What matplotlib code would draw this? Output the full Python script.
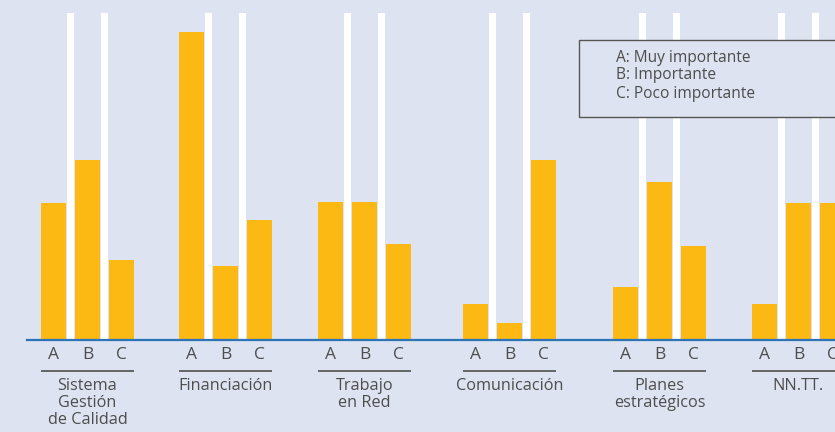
import matplotlib
matplotlib.use("Agg")
import matplotlib.pyplot as plt
from matplotlib.patches import Rectangle
from matplotlib.transforms import blended_transform_factory

# Importance ratings per management area (% of respondents)
areas = ["Sistema\nGestión\nde Calidad", "Financiación", "Trabajo\nen Red",
         "Comunicación", "Planes\nestratégicos", "NN.TT."]
muy_importante = [41.9, 94.2, 42.2, 11.0, 16.2, 11.0]
importante = [55.0, 22.6, 42.2, 5.2, 48.3, 41.9]
poco_importante = [24.5, 36.7, 29.4, 55.0, 28.7, 41.9]
level_labels = ["A", "B", "C"]
legend_lines = ["A: Muy importante", "B: Importante", "C: Poco importante"]

# Layout (horizontal positions in pixels of the figure)
W, H = 835, 432
group_centers = [87.5, 225.5, 364.5, 509.5, 659.5, 798.5]
bar_step = 34
bar_width = 25
stripe_width = 7.5

BG = "#dde3f1"
BAR = "#fdb913"
LINE = "#2b74ba"
TXT = "#4d4d4d"
FONT = "Open Sans"

fig = plt.figure(figsize=(W / 100, H / 100), dpi=100, facecolor=BG)
ax_left, ax_right, ax_top, ax_bottom = 27, 835, 13, 340
ax = fig.add_axes([ax_left / W, 1 - ax_bottom / H,
                   (ax_right - ax_left) / W, (ax_bottom - ax_top) / H])
ax.set_facecolor(BG)
ax.set_xlim(ax_left, ax_right)
ax.set_ylim(0, 100)

series = [muy_importante, importante, poco_importante]
tick_pos, tick_lab = [], []
for g, cx in enumerate(group_centers):
    for k, vals in enumerate(series):
        x = cx + (k - 1) * bar_step
        ax.bar(x, vals[g], width=bar_width, color=BAR, zorder=3)
        tick_pos.append(x)
        tick_lab.append(level_labels[k])
    # white separators between the bars of a group
    for k in (-0.5, 0.5):
        sx = cx + k * bar_step
        ax.axvspan(sx - stripe_width / 2, sx + stripe_width / 2,
                   color="white", lw=0, zorder=1)

for s in ("top", "right", "left"):
    ax.spines[s].set_visible(False)
ax.spines["bottom"].set_color(LINE)
ax.spines["bottom"].set_linewidth(1.6)
ax.spines["bottom"].set_zorder(4)
ax.set_yticks([])
ax.set_xticks(tick_pos)
ax.set_xticklabels(tick_lab, fontsize=12.5, color=TXT, family=FONT)
ax.tick_params(axis="x", length=0, pad=5)

trans = blended_transform_factory(ax.transData, ax.transAxes)
px = 1 / (ax_bottom - ax_top)  # one pixel in axes fraction
for g, cx in enumerate(group_centers):
    x0 = cx - bar_step - bar_width / 2
    x1 = cx + bar_step + bar_width / 2
    yl = -(370.7 - ax_bottom) * px
    ax.plot([x0, x1], [yl, yl], color="#5a5a5a", lw=1.3,
            transform=trans, clip_on=False, solid_capstyle="butt")
    ax.text(cx, -(377.5 - ax_bottom) * px, areas[g], transform=trans,
            ha="center", va="top", multialignment="center",
            fontsize=11.7, color=TXT, family=FONT, linespacing=1.12)

# Legend box
bx0, by0, by1 = 578.5, 40, 116.5
fig.patches.append(Rectangle((bx0 / W, 1 - by1 / H), (W + 10 - bx0) / W,
                             (by1 - by0) / H, transform=fig.transFigure,
                             facecolor=BG, edgecolor="#555555", lw=1.0,
                             zorder=5))
for line, yc in zip(legend_lines, [57.5, 75, 94]):
    fig.text(616 / W, 1 - yc / H, line, ha="left", va="center",
             fontsize=11.2, color=TXT, family=FONT, zorder=6)

fig.savefig("out.png", dpi=100, facecolor=BG)
